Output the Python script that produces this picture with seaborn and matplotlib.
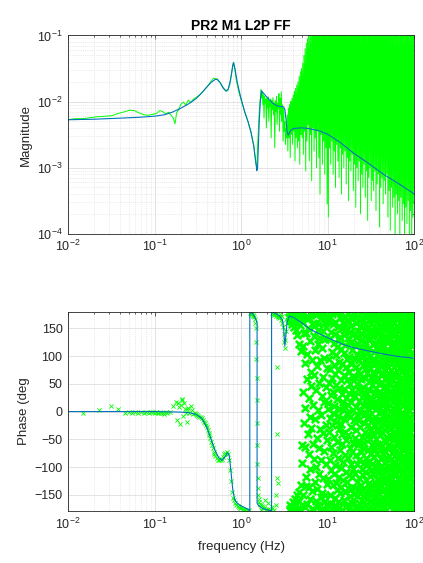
import numpy as np
import seaborn as sns
import matplotlib.pyplot as plt
from matplotlib.ticker import LogLocator, NullFormatter

# ---- fitted model (blue) ----
fit_freq = [0.01, 0.02, 0.04, 0.07, 0.1, 0.13, 0.16, 0.2, 0.25, 0.3,
            0.35, 0.4, 0.45, 0.5, 0.53, 0.57, 0.62, 0.67, 0.71, 0.75,
            0.78, 0.8, 0.82, 0.85, 0.9, 0.95, 1.0, 1.1, 1.2, 1.3,
            1.4, 1.47, 1.52, 1.55, 1.58, 1.62, 1.67, 1.72, 1.8, 2.0,
            2.3, 2.6, 2.9, 3.1, 3.2, 3.3, 3.4, 3.5, 3.7, 4.0,
            5.0, 6.0, 8.0, 10, 14, 20, 30, 45, 65, 100]
fit_mag_e3 = [5.3, 5.4, 5.6, 5.8, 6.0, 6.3, 6.9, 7.9, 9.3, 11.0,
              13.5, 16.5, 19.5, 21.5, 21.8, 19.5, 16.0, 14.3, 15.5, 20.5,
              28.0, 35.0, 39.0, 31.0, 20.0, 14.5, 11.0, 7.0, 5.0, 3.4,
              2.1, 1.3, 0.9, 1.0, 2.0, 5.0, 10.5, 14.5, 13.5, 11.5,
              9.5, 8.6, 8.4, 8.3, 7.6, 5.5, 3.5, 3.1, 3.6, 3.9,
              4.0, 3.9, 3.6, 3.2, 2.4, 1.65, 1.15, 0.78, 0.58, 0.4]

fit_ph_freq = [0.01, 0.05, 0.1, 0.2, 0.25, 0.3, 0.35, 0.4, 0.45, 0.5,
               0.55, 0.6, 0.65, 0.7, 0.73, 0.76, 0.8, 0.84, 0.9, 1.0,
               1.1, 1.2, 1.26, 1.26, 1.35, 1.42, 1.48, 1.53, 1.53, 1.6,
               1.8, 2.0, 2.25, 2.25, 2.5, 2.8, 3.0, 3.1, 3.2, 3.28,
               3.4, 3.6, 4.0, 5.0, 6.3, 10, 15, 20, 30, 40,
               60, 100]
fit_phase = [0, 0, 0, -1, -2, -5, -12, -28, -50, -70,
             -83, -88, -82, -74, -80, -105, -140, -158, -165, -170,
             -173, -176, -179, 179, 177, 172, 166, 160, -165, -170,
             -175, -177, -179, 179, 177, 172, 165, 150, 118, 135,
             160, 172, 170, 160, 148, 133, 121, 115, 109, 105,
             100, 96]

# ---- measured (green), smooth part ----
meas_freq = [0.010, 0.012, 0.015, 0.018, 0.022, 0.027, 0.032, 0.038, 0.045, 0.052,
             0.058, 0.065, 0.075, 0.085, 0.095, 0.105, 0.115, 0.125, 0.135, 0.145,
             0.155, 0.165, 0.172, 0.180, 0.190, 0.200, 0.215, 0.230, 0.245, 0.260,
             0.280, 0.300, 0.330, 0.360, 0.400, 0.440, 0.480, 0.520, 0.560, 0.600,
             0.650, 0.700, 0.740, 0.780, 0.810, 0.840, 0.880, 0.940, 1.000, 1.100,
             1.200, 1.300, 1.400, 1.470, 1.520, 1.560, 1.620, 1.700]
meas_mag_e3 = [5.3, 5.5, 5.5, 5.7, 5.9, 6.0, 6.1, 6.6, 7.0, 7.4,
               7.3, 6.8, 6.3, 6.2, 6.4, 6.6, 7.3, 7.0, 6.5, 6.9,
               6.2, 5.6, 4.6, 6.8, 7.5, 9.0, 9.8, 8.8, 10.5, 9.6,
               10.8, 11.5, 12.5, 14.0, 16.5, 19.5, 22.5, 22.0, 20.0, 17.5,
               15.0, 14.5, 18.0, 28.0, 38.0, 33.0, 21.0, 14.0, 10.5, 7.0,
               5.0, 3.5, 2.2, 1.2, 1.0, 2.5, 7.0, 15.0]

# measured magnitude above 1.7 Hz, log10 values on log-spaced bins up to 100 Hz
meas_mag_noise_log = [
    -1.82, -1.95, -1.86, -2.05, -1.90, -2.25, -1.92, -2.02, -1.97, -2.40, -1.95, -2.10,
    -1.93, -2.30, -2.00, -2.08, -1.96, -2.55, -1.98, -2.12, -1.94, -2.20, -2.02, -2.70,
    -1.99, -2.15, -1.92, -2.35, -2.03, -2.10, -1.88, -2.45, -1.95, -2.20, -1.85, -2.30,
    -2.05, -2.60, -2.10, -2.45, -2.30, -2.65, -2.40, -2.55,
    -2.20, -2.75, -2.10, -2.55, -2.05, -2.85, -2.00, -2.50, -1.95, -2.65, -1.90, -2.45,
    -1.85, -2.90, -1.80, -2.55, -1.75, -2.70, -1.70, -2.60, -1.62, -2.95, -1.55, -2.50, -1.50,
    -2.55, -1.42, -2.80, -1.30, -2.45, -1.20, -3.05, -1.12, -2.60, -1.05, -2.35, -0.98,
    -2.90, -0.92, -2.50, -0.85, -3.20, -0.85, -2.40, -0.70, -2.75, -0.80, -2.55, -0.65,
    -3.00, -0.75, -2.45, -0.70, -2.85, -0.60, -3.40, -0.70, -2.50, -0.65, -2.95, -0.60,
    -2.60, -0.70, -3.10, -0.55, -2.70, -0.60, -3.55, -0.65,
    -3.75, -0.60, -2.70, -0.70, -2.95, -0.55, -2.60, -0.65, -3.10, -0.60, -2.75, -0.70,
    -3.30, -0.55, -2.65, -0.60, -2.90, -0.65, -3.15, -0.60, -2.70, -0.55, -3.40, -0.70,
    -2.80, -0.60, -3.00, -0.55, -2.75, -0.65, -3.25, -0.60, -2.85, -0.70, -3.50, -0.55,
    -2.90, -0.60, -3.05, -0.65, -2.80, -0.60,
    -3.35, -0.55, -2.95, -0.60, -3.60, -0.65, -3.00, -0.55, -3.20, -0.60, -2.90, -0.70,
    -3.70, -0.55, -3.10, -0.60, -3.30, -0.65, -2.95, -0.55, -3.45, -0.60, -3.05, -0.70,
    -3.80, -0.55, -3.15, -0.60, -3.00, -0.65, -3.50, -0.55, -3.20, -0.60, -3.35, -0.70,
    -3.05, -0.55, -3.65, -0.60, -3.25, -0.65, -3.10, -0.55, -3.90, -0.60, -3.30, -0.70,
    -3.15, -0.55, -3.55, -0.60, -3.20, -0.65, -3.40, -0.55, -3.10, -0.60, -3.75,
    -0.60, -3.35, -0.55, -3.95, -0.65, -3.30, -0.60, -3.60, -0.55, -3.45, -0.70, -4.05,
    -0.60, -3.40, -0.55, -3.70, -0.65, -3.50, -0.60, -4.10, -0.55, -3.45, -0.60, -3.80,
    -0.65, -3.55, -0.55, -4.20, -0.60, -3.60, -0.65, -3.85, -0.55, -3.50, -0.60, -4.00,
    -0.70, -3.65, -0.55, -4.30, -0.60, -3.75, -0.65, -3.55]

meas_ph_freq = [0.015, 0.023, 0.031, 0.038, 0.045, 0.050, 0.055, 0.060, 0.065, 0.070,
                0.075, 0.080, 0.085, 0.090, 0.095, 0.100, 0.105, 0.110, 0.115, 0.120,
                0.125, 0.130, 0.135, 0.140, 0.150, 0.165, 0.175, 0.180, 0.185, 0.190,
                0.195, 0.200, 0.205, 0.210, 0.215, 0.220, 0.225, 0.230, 0.235, 0.240,
                0.245, 0.250, 0.260, 0.270, 0.280, 0.290, 0.300, 0.310, 0.320, 0.330,
                0.340, 0.350, 0.360, 0.370, 0.380, 0.390, 0.400, 0.410, 0.420, 0.430,
                0.440, 0.450, 0.460, 0.470, 0.480, 0.490, 0.500, 0.520, 0.540, 0.560,
                0.580, 0.600, 0.620, 0.640, 0.660, 0.680, 0.700, 0.720, 0.740, 0.760,
                0.780, 0.800, 0.820, 0.850, 0.880, 0.910, 0.940, 0.970, 1.000, 1.040,
                1.080, 1.120, 1.160, 1.200, 1.240, 1.270, 1.290, 1.310, 1.330, 1.350,
                1.370, 1.390, 1.410, 1.430, 1.450, 1.470, 1.490, 1.500, 1.510, 1.520,
                1.525, 1.530, 1.540, 1.550, 1.560, 1.580, 1.600, 1.630, 1.660, 1.680,
                1.700, 1.750, 1.800, 1.860, 1.900, 1.920, 1.980, 2.040, 2.050, 2.100,
                2.160, 2.200, 2.280, 2.300, 2.320, 2.360, 2.400, 2.420, 2.450, 2.500,
                2.500, 2.550, 2.560, 2.580, 2.600, 2.620, 2.640, 2.660, 2.700, 2.750,
                2.800, 2.850, 2.900, 2.950, 3.000, 3.050, 3.100, 3.150, 3.200, 3.250,
                3.300, 3.350, 3.400, 3.450, 3.500, 3.550]
meas_phase = [-2, 3, 10, 4, -2, -1, -3, -1, -2, 0,
              -2, -1, -3, 0, -1, -2, 0, -2, -1, -3,
              -2, -4, -1, -2, 0, 10, 18, -15, 15, 8,
              -22, 12, 22, 20, -8, 16, 4, -3, 5, -18,
              6, -2, 10, 2, -4, -3, -5, -6, -8, -9,
              -10, -12, -15, -18, -20, -24, -28, -33, -38, -43,
              -48, -54, -60, -66, -72, -77, -80, -84, -87, -88,
              -87, -85, -81, -77, -74, -73, -76, -88, -105, -125,
              -145, -155, -160, -165, -168, -170, -172, -173, -174, -176,
              -177, -178, -178, -179, -177, 178, 176, 179, 175, 177,
              174, 172, 170, 166, 160, 150, 125, 95, 60, 20,
              -20, -60, -95, -120, -138, -150, -158, -163, -166, -178,
              -168, -170, -172, -174, -160, -175, -177, -176, -165, -178,
              -179, -177, 178, -172, 176, 179, 174, -178, 177, 172,
              -168, 175, -150, -120, 80, -40, -128, 170, 173, 168,
              176, 170, 165, 172, 160, 152, 140, 125, 115, 128,
              145, 160, 170, 178, 165, -178]

# measured phase above 3.6 Hz (bins get denser towards 100 Hz)
meas_phase_noise = [
    171, 178, -176, -169, 163, 175, -179, 158, 166, -172, -163, 179, 152, -177, 169, -158,
    -171, 174, 147, 161, -166, -179, 172, 138, -150, -175, 166, 177, -162, 121, -145, 156,
    -178, 170, 109, -133, 174, -168,
    -92, -61, 164, 35, 118, -151, -20, 177, 142, -63, 88, -172, 7, 141, -118, -134, 59, 166, -166, 103,
    -41, 150, 171, -135, 24, -77, 169, 127, -9, -158, -104, 71, 179, 46, -29, -143, -175, 93, 160, 12,
    -58, -176, 136, -86, 65, 155, -127, -14, 110, 176, -161, 39, -99, 174, -48, -169, 82, -139, 3, 147,
    -170, 121, -66, 158, -112, 51, -179, 133, -31, 92, -154, 168, -7, -88, 175, 114, -146, 28, -177, 62,
    145, -120, -38, 179, -163, 97, 17, -71, 162, -150, 130, -178, 44, -95, 172, -25, 153, -131, -167, 78,
    -52, 163, 5,
    15, -121, 166, -37, 94, -179, 52, 130, -88, -12, 171, -150, 77, 29, -64, 143, -106, -167, 108, -25,
    61, 175, -133, -3, 157, -74, 36, -112, 124, -180, 84, -45, 10, -156, 139, 68, -97, 162, -19, -128,
    101, 47, -171, 179, -55, 22, 116, -142, -83, 153, -8, 74, -163, 128, -31, 90, -117, -174, 43, 168,
    -69, 5, 135, -147, 57, -101, 178, -22, 113, -135, 31, -59, 150, -178, 86, -40, 17, -124, 159, 2,
    -91, 66, 137, -160, -14, 105, 40, -145, 173, -79, -36, 119, 8, -172, 81, 149, -108, -52, 25, 164,
    -126, 95, -2, -168, 57, 132, -84, 176, -43, 11, -137, 72, 161, -115, 34, -176, 99, -66, 143, -9,
    -153, 49, 124, -95, 170, -27, 85, -140, 18, 155, -73, -165, 110, 39, -118, 167, -57, 3, 138, -179,
    63, -104, 177, 28, -149,
    97, -164, 142, -16, 63, -110, 176, -48, 28, -137, 119, -79, 160, 8, -170, 81, -33, 134, -152, 50,
    -95, 170, -6, 104, -126, 41, -60, 145, -177, 73, -15, 122, -141, 19, -87, 163, -53, 92, -119, 2,
    154, -166, 67, -28, 111, -146, 37, -72, 179, -2, 99, -133, 58, -103, 140, -160, 26, -45, 131, -175,
    84, 12, -115, 166, -66, 45, -153, 108, -21, -92, 172, 33, -138, 126, -57, 76, -4, -169, 149, -108,
    60, -36, 117, -149, 14, 157, -83, 95, -123, 31, -180, 138, -11, 69, -97, 173, -44, 22, -158, 106,
    -70, 152, 4, -130, 88, -24, -176, 129, 54, -89, 165, -140, 38, -7, 114, -162, 79, -50, 144, -116,
    18, -171, 100, -34, 63, -145, 175, -76, 27, -105, 158, -17, -132, 91, 47, -61, 136, -179, 9, -94,
    121, -154, 71, -38, 167, -112, 16, -68, 145, -173, 83, 107, -25, -143, 56, 178, -81, 34, -128, 150,
    -10, 93, -167, 66, 123, -49, -100, 5, 171, -136, 42, 87, -155, 115, -19, -74, 161, 30, -178, 102,
    -58, 139, -121, 13, 77, -165, 147, -35, -91, 59, 168, -111, 24, -147, 128, -3, 90, -159, 49, -64,
    174, -29, 112, -124, 36, -173, 82, 153, -43, -99, 7, 135, -157, 68, -16, 166, -86, 119, -134, 27,
    -62, 179, 52, -113, 96, -174, 141, -39, 11, -144, 103, 70, -77, 160, -22, -162, 32, 127, -103, 86,
    -51, 176, -125, 45, 0, -170, 118, -70, 155, -5, 75, -139, 20, 163, -93, -33, 109, -160, 58, 133,
    -118, 8, -54, 146, 97, -177, 39, -83, 170, -12, 125, -152, 64, -107, 15, 156, -46, -166, 88, 29,
    -127, 143, -20, 80, -98, 172, -141, 53, -60,
    -27, 109, -150, 56, -99, 161, -9, -136, 127, 24, -80, 178, -157, 65, -43, 132, -118, 11, 96, -171,
    49, -63, 153, -102, 1, 118, -145, 74, -30, 170, -124, 37, -86, 142, -165, 58, -13, 107, -139, 29,
    164, -74, 87, -108, -178, 125, -52, 6, 149, -160, 70, -21, 115, -131, 43, -95, 176, -3, -147, 98,
    -66, 20, 137, -174, 81, -40, 159, -113, 33, -90, 120, -156, 62, -8, 174, -127, 93, -47, 14, -168,
    141, -104, 51, -25, 103, -142, 178, -71, 36, -115, 155, -18, -163, 128, -57, 85, -134, 9, 167, -96,
    42, -150, 113, -29, -79, 147, -177, 66, -11, 100, -121, 25, -61, 171, -146, 90, -35, 134, -107, 3,
    -169, 124, -82, 48, -130, 160, -15, 77, -140, 16, -100, 172, -54, 108, -159, 39, -76, 146, -2, -125,
    89, -44, 163, -167, 55, -91, 119, -20, -152, 131, -68, 29, 176, -111, 72, -37, 139, -174, 97, -9,
    -138, 61, 154, -87, 19, -161, 111, -48, 82, -119, 173, -31, 45, -153, 126, -6, -94, 168, 35, -128,
    101, -64, 149, -175, 13, 78, -109, 158, -41, -144, 92, 27, -171, 117, -58, 140, -16, 67, -133, 179,
    -84, 4, 129, -162, 53, -36, 164, -98, 21, 106, -149, 71, -22, -179, 136, -73, 40, 152, -117, -4,
    86, -166, 115, -50, 170, -135, 30, -90, 144, 10, -155, 63, -28, 121, -103, 177, -62, 94, -143, 46,
    -12, 157, -122, 79, -170, 33, 131, -85, -45, 166, -110, 57, 2, -148, 112, -69, 175, -26, 88, -164,
    141, -39, 18, -132, 99, -178, 60, 150, -92, -17, 124, -156, 74, 38, -120, 162, -53, 105, -172, 8,
    -81, 137, 51, -141, 178, -30, 91, -106, 23, 160, -65, -159, 118, 14, -97, 145, -176, 69, -42, 127,
    -129, 83, -7, 169, -114, 41, -151, 103, 26, -78, 153, -168, 59, -24, 134, -93, 175, -56, 12, -137,
    35]

GREEN = '#00ff00'
BLUE = '#0072bd'
DARK = '#262626'

# frequency bins for the noisy parts of the measurement
f_mag_noise = np.geomspace(1.7, 100, len(meas_mag_noise_log))
f_ph_noise = np.linspace(1.9, 10.0, len(meas_phase_noise)) ** 2

sns.set_theme(style="white")
plt.rcParams['font.family'] = ['Liberation Sans', 'DejaVu Sans']
plt.rcParams['mathtext.fontset'] = 'custom'
plt.rcParams['mathtext.rm'] = 'Liberation Sans'

fig = plt.figure(figsize=(4.23, 5.63), dpi=100)
ax1 = fig.add_axes([0.161, 0.585, 0.818, 0.352])
ax2 = fig.add_axes([0.161, 0.0915, 0.818, 0.355])

# magnitude
sns.lineplot(x=meas_freq, y=np.array(meas_mag_e3) * 1e-3, ax=ax1, color=GREEN,
             lw=0.7, estimator=None, sort=False)
sns.lineplot(x=f_mag_noise, y=10.0 ** np.array(meas_mag_noise_log), ax=ax1,
             color=GREEN, lw=0.7, estimator=None, sort=False)
sns.lineplot(x=fit_freq, y=np.array(fit_mag_e3) * 1e-3, ax=ax1, color=BLUE,
             lw=0.8, estimator=None, sort=False)
ax1.set_xscale('log')
ax1.set_yscale('log')
ax1.set_xlim(1e-2, 1e2)
ax1.set_ylim(1e-4, 1e-1)
ax1.set_ylabel('Magnitude', fontsize=9.5, color=DARK)
ax1.yaxis.set_label_coords(-0.104, 0.5)
ax1.set_xlabel('')
ax1.set_title('PR2 M1 L2P FF', fontsize=10, fontweight='bold', color='black', pad=4)

# phase
sns.scatterplot(x=meas_ph_freq, y=meas_phase, ax=ax2, marker='x', color=GREEN,
                s=9, linewidth=0.6)
sns.scatterplot(x=f_ph_noise, y=meas_phase_noise, ax=ax2, marker='x', color=GREEN,
                s=28, linewidth=1.9)
sns.lineplot(x=fit_ph_freq, y=fit_phase, ax=ax2, color=BLUE, lw=0.8,
             estimator=None, sort=False)
ax2.set_xscale('log')
ax2.set_xlim(1e-2, 1e2)
ax2.set_ylim(-180, 180)
ax2.set_yticks([-150, -100, -50, 0, 50, 100, 150])
ax2.set_ylabel('Phase (deg', fontsize=9.5, color=DARK)
ax2.yaxis.set_label_coords(-0.11, 0.5)
ax2.set_xlabel('frequency (Hz)', fontsize=9.5, color=DARK, labelpad=6)

for ax in (ax1, ax2):
    ax.xaxis.set_major_locator(LogLocator(base=10, numticks=10))
    ax.xaxis.set_minor_locator(LogLocator(base=10, subs=np.arange(2, 10), numticks=20))
    ax.xaxis.set_minor_formatter(NullFormatter())
    ax.grid(True, which='major', color='#d8d8d8', lw=0.5, ls='-')
    ax.grid(True, which='minor', color='#d8d8d8', lw=0.5, ls=':')
    ax.set_axisbelow(True)
    ax.tick_params(which='both', direction='in', top=True, right=True,
                   labelsize=9, colors=DARK, pad=4)
    ax.tick_params(which='major', length=3, width=0.5)
    ax.tick_params(which='minor', length=1.5, width=0.5)
    for sp in ax.spines.values():
        sp.set_color(DARK)
        sp.set_linewidth(0.6)
    leg = ax.get_legend()
    if leg is not None:
        leg.remove()

ax1.yaxis.set_minor_locator(LogLocator(base=10, subs=np.arange(2, 10), numticks=20))
ax1.yaxis.set_minor_formatter(NullFormatter())

fig.savefig('out.png', dpi=100)
